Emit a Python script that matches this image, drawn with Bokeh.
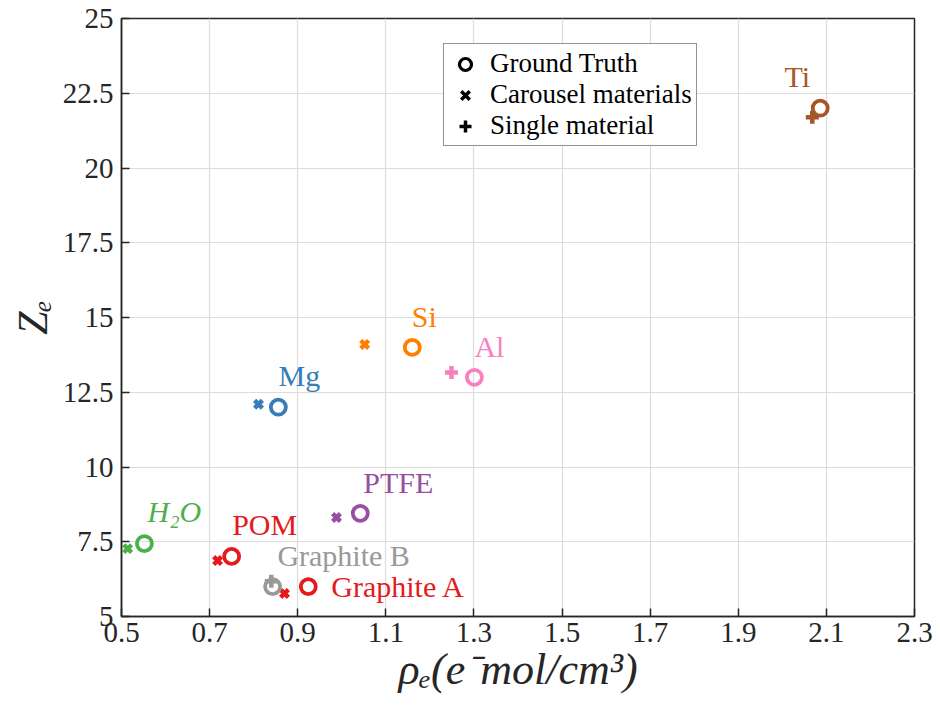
from bokeh.plotting import figure
from bokeh.models import ColumnDataSource, FixedTicker, Legend, LegendItem, Range1d
from bokeh.embed import file_html
from bokeh.resources import INLINE
from bokeh.core.properties import value

# ---- data ----
materials = ["Ti", "Si", "Al", "Mg", "PTFE", "H\u2082O", "POM", "Graphite B", "Graphite A"]
colors = ["#a65628", "#ff7f00", "#f781bf", "#377eb8", "#984ea3", "#4daf4a", "#e41a1c", "#999999", "#e41a1c"]
gt_rho = [2.086, 1.160, 1.301, 0.856, 1.042, 0.552, 0.750, 0.843, 0.924]
gt_z = [22.0, 14.0, 13.0, 12.0, 8.45, 7.44, 7.01, 6.0, 6.0]

carousel_names = ["Si", "Mg", "PTFE", "H\u2082O", "POM", "Graphite A"]
carousel_rho = [1.052, 0.811, 0.988, 0.514, 0.718, 0.870]
carousel_z = [14.1, 12.1, 8.31, 7.27, 6.87, 5.77]

single_names = ["Ti", "Al", "Graphite B"]
single_rho = [2.068, 1.249, 0.840]
single_z = [21.7, 13.16, 6.18]

x_ticks = [0.5, 0.7, 0.9, 1.1, 1.3, 1.5, 1.7, 1.9, 2.1, 2.3]
x_tick_labels = ["0.5", "0.7", "0.9", "1.1", "1.3", "1.5", "1.7", "1.9", "2.1", "2.3"]
y_ticks = [5, 7.5, 10, 12.5, 15, 17.5, 20, 22.5, 25]
y_tick_labels = ["5", "7.5", "10", "12.5", "15", "17.5", "20", "22.5", "25"]

legend_labels = ["Ground Truth", "Carousel materials", "Single material"]

# ---- styles (label pixel offsets relative to ground-truth point) ----
label_dx = [-23, 12, 15, 21, 38, 30, 33, 71, 23]
label_dy = [-32, -31, -31, -32, -31, -32, -32, -31, 0]
label_align = ["center"] * 8 + ["left"]
label_style = ["normal"] * 5 + ["italic"] + ["normal"] * 3

cmap = dict(zip(materials, colors))

FONT = "Liberation Serif"
TXT = "#262626"

p = figure(width=940, height=711, output_backend="svg", toolbar_location=None,
           x_range=Range1d(0.5, 2.3), y_range=Range1d(5, 25),
           min_border_left=121, min_border_right=26, min_border_top=18, min_border_bottom=95,
           x_axis_label="\u03c1\u2091(e\u207bmol/cm\u00b3)", y_axis_label="Z\u2091")

p.background_fill_color = "white"
p.border_fill_color = "white"
p.outline_line_color = TXT
p.outline_line_width = 1.5

for ax, ticks, labels in ((p.xaxis[0], x_ticks, x_tick_labels), (p.yaxis[0], y_ticks, y_tick_labels)):
    ax.ticker = FixedTicker(ticks=ticks)
    ax.major_label_overrides = {t: l for t, l in zip(ticks, labels)}
    ax.major_label_text_font = FONT
    ax.major_label_text_font_size = "29px"
    ax.major_label_text_color = TXT
    ax.axis_label_text_font = FONT
    ax.axis_label_text_font_style = "italic"
    ax.axis_label_text_color = TXT
    ax.axis_line_color = TXT
    ax.axis_line_width = 1.5
    ax.major_tick_in = 8
    ax.major_tick_out = 0
    ax.major_tick_line_color = TXT
    ax.major_tick_line_width = 1.5
    ax.minor_tick_line_color = None
p.xaxis.axis_label_text_font_size = "44px"
p.yaxis.axis_label_text_font_size = "42px"
p.xaxis.major_label_standoff = 6
p.yaxis.major_label_standoff = 8
p.xaxis.axis_label_standoff = 0
p.yaxis.axis_label_standoff = 4

p.xgrid.ticker = FixedTicker(ticks=x_ticks)
p.ygrid.ticker = FixedTicker(ticks=y_ticks)
p.grid.grid_line_color = "#dcdcdc"
p.grid.grid_line_width = 1.2

gt_src = ColumnDataSource(dict(x=gt_rho, y=gt_z, c=colors, name=materials,
                               dx=label_dx, dy=label_dy, align=label_align, style=label_style))
car_src = ColumnDataSource(dict(x=carousel_rho, y=carousel_z, c=[cmap[n] for n in carousel_names]))
sin_src = ColumnDataSource(dict(x=single_rho, y=single_z, c=[cmap[n] for n in single_names]))

p.scatter("x", "y", source=car_src, marker="x", size=11, line_width=4.5, line_color="c")
p.scatter("x", "y", source=sin_src, marker="cross", size=13, line_width=4.5, line_color="c")
p.scatter("x", "y", source=gt_src, marker="circle", size=15, line_width=3.8, line_color="c",
          fill_color="white", fill_alpha=0)

p.text("x", "y", text="name", source=gt_src, x_offset="dx", y_offset="dy",
       text_align="align", text_baseline="middle", text_color="c",
       text_font=value(FONT), text_font_size="30px", text_font_style="style")

# legend with black proxy glyphs (placed outside the visible range)
proxy = dict(x=[-100.0], y=[-100.0])
r1 = p.scatter("x", "y", source=ColumnDataSource(proxy), marker="circle", size=12, line_width=3.2,
               line_color="black", fill_alpha=0)
r2 = p.scatter("x", "y", source=ColumnDataSource(proxy), marker="x", size=9, line_width=3.5,
               line_color="black")
r3 = p.scatter("x", "y", source=ColumnDataSource(proxy), marker="cross", size=10, line_width=3.5,
               line_color="black")
legend = Legend(items=[LegendItem(label=legend_labels[0], renderers=[r1]),
                       LegendItem(label=legend_labels[1], renderers=[r2]),
                       LegendItem(label=legend_labels[2], renderers=[r3])],
                location=(322, 470))
legend.label_text_font = FONT
legend.label_text_font_size = "27px"
legend.label_text_color = "black"
legend.border_line_color = "#262626"
legend.border_line_width = 1.2
legend.spacing = 0
legend.padding = 4
legend.margin = 0
legend.label_height = 30
legend.glyph_height = 30
legend.glyph_width = 34
legend.label_standoff = 8
p.add_layout(legend, "center")

open("out.html", "w").write(file_html(p, INLINE))
